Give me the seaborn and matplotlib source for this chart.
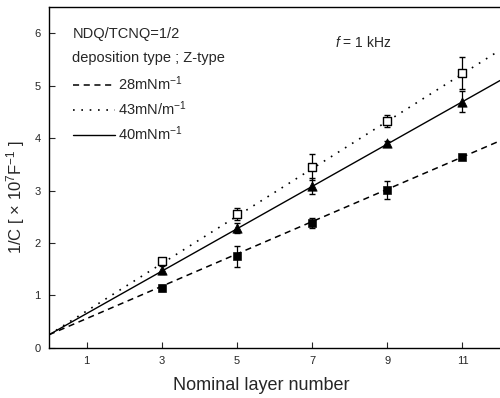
import numpy as np
import matplotlib
matplotlib.use('Agg')
import matplotlib.pyplot as plt
import pandas as pd
import seaborn as sns

# Datos
layers = [3, 5, 7, 9, 11]
c28 = [1.14, 1.75, 2.38, 3.01, 3.64]
c28_err = [0.05, 0.2, 0.1, 0.17, 0.04]
c43 = [1.66, 2.55, 3.45, 4.33, 5.24]
c43_err = [0.05, 0.12, 0.25, 0.12, 0.3]
c40 = [1.49, 2.29, 3.09, 3.90, 4.70]
c40_err = [0.08, 0.1, 0.15, 0.05, 0.2]

# Rectas de ajuste (extremos)
fit_x = [0, 12]
fit28 = [0.25, 3.95]
fit43 = [0.25, 5.68]
fit40 = [0.25, 5.10]

xticks = [1, 3, 5, 7, 9, 11]
yticks = [0, 1, 2, 3, 4, 5, 6]

sns.set_style('ticks')
plt.rcParams['font.family'] = ['Liberation Sans', 'DejaVu Sans']
plt.rcParams['mathtext.fontset'] = 'custom'
plt.rcParams['mathtext.rm'] = 'Liberation Sans'
plt.rcParams['mathtext.it'] = 'Liberation Sans:italic'

fig = plt.figure(figsize=(5, 3.98), dpi=100)
ax = fig.add_axes([0.098, 0.126, 0.902, 0.856])

fits = pd.DataFrame({'x': fit_x * 3,
                     'y': fit28 + fit43 + fit40,
                     'serie': ['28'] * 2 + ['43'] * 2 + ['40'] * 2})
sns.lineplot(data=fits[fits.serie == '28'], x='x', y='y', color='black', lw=1.1,
             linestyle=(0, (4, 3)), label='28mNm$^{-1}$', ax=ax)
sns.lineplot(data=fits[fits.serie == '43'], x='x', y='y', color='black', lw=1.2,
             linestyle=(0, (1, 4)), label='43mN/m$^{-1}$', ax=ax)
sns.lineplot(data=fits[fits.serie == '40'], x='x', y='y', color='black', lw=1.0,
             linestyle='-', label='40mNm$^{-1}$', ax=ax)

# Barras de error y marcadores
ax.errorbar(layers, c28, yerr=c28_err, fmt='none', ecolor='black', elinewidth=0.9, capsize=2.5)
ax.errorbar(layers, c43, yerr=c43_err, fmt='none', ecolor='black', elinewidth=0.9, capsize=2.5)
ax.errorbar(layers, c40, yerr=c40_err, fmt='none', ecolor='black', elinewidth=0.9, capsize=2.5)
sns.scatterplot(x=layers, y=c28, marker='s', s=30, color='black', edgecolor='black', ax=ax, zorder=5)
sns.scatterplot(x=layers, y=c43, marker='s', s=30, color='white', edgecolor='black', linewidth=1, ax=ax, zorder=5)
sns.scatterplot(x=layers, y=c40, marker='^', s=45, color='black', edgecolor='black', ax=ax, zorder=5)

ax.set_xlim(0, 12)
ax.set_ylim(0, 6.5)
ax.set_xticks(xticks)
ax.set_yticks(yticks)
ax.tick_params(direction='in', length=4, width=0.8, labelsize=8, pad=6)
ax.spines['right'].set_visible(False)
for s in ['left', 'bottom', 'top']:
    ax.spines[s].set_linewidth(1.0)
    ax.spines[s].set_color('black')

ax.set_xlabel('Nominal layer number', fontsize=13)
ax.xaxis.set_label_coords(0.47, -0.085)
ax.set_ylabel(r'1/C [ $\times$ 10$^{7}$F$^{-1}$ ]', fontsize=12)
ax.yaxis.set_label_coords(-0.048, 0.443)

ax.text(0.052, 0.92, 'NDQ/TCNQ=1/2', transform=ax.transAxes, fontsize=10.5, va='center')
ax.text(0.052, 0.85, 'deposition type ; Z-type', transform=ax.transAxes, fontsize=10.5, va='center')
ax.text(0.635, 0.895, r'$f$ = 1 kHz', transform=ax.transAxes, fontsize=10, va='center')

ax.legend(loc='upper left', bbox_to_anchor=(0.04, 0.82), frameon=False, fontsize=10.5,
          handlelength=2.9, handletextpad=0.2, labelspacing=0.45, borderaxespad=0)

plt.savefig('out.png', dpi=100)
